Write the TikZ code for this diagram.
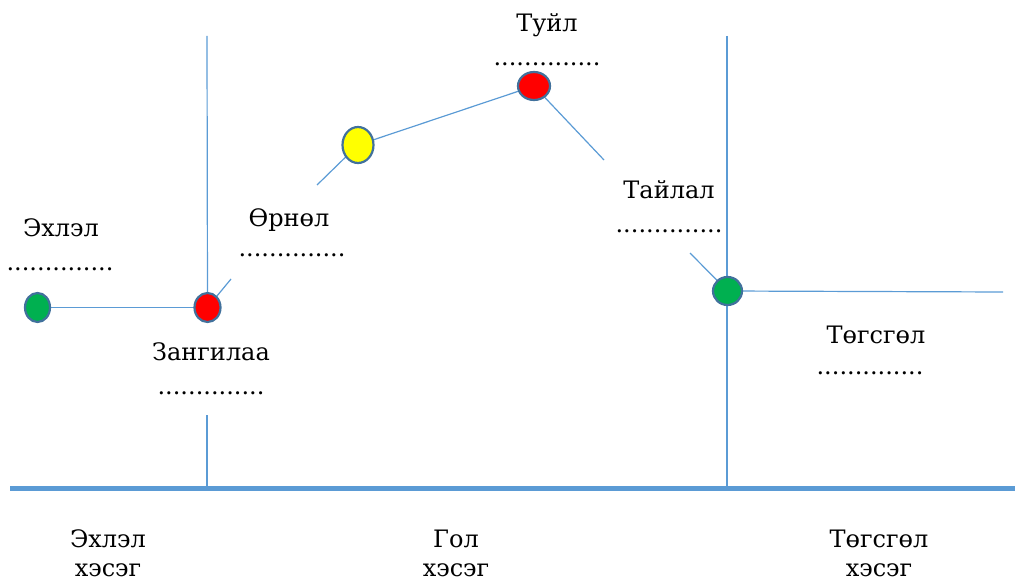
\documentclass[tikz,border=0pt]{standalone}
\usepackage{fontspec}
\newfontfamily\cyrserif{DejaVu Serif}
\usetikzlibrary{shapes.geometric}
\definecolor{lineblue}{HTML}{5B9BD5}
\definecolor{rimblue}{HTML}{41719C}
\definecolor{dotgreen}{HTML}{00B050}
\definecolor{dotred}{HTML}{FF0000}
\definecolor{dotyellow}{HTML}{FFFF00}
\begin{document}
\begin{tikzpicture}[x=1pt,y=-1pt,
  conn/.style={draw=lineblue,line width=1.2pt},
  bead/.style={ellipse,draw=rimblue,line width=2.2pt,inner sep=0pt},
  lbl/.style={anchor=base,inner sep=0pt,font=\cyrserif\fontsize{24}{28}\selectfont},
  dots/.style={anchor=base,inner sep=0pt,font=\cyrserif\fontsize{24}{28}\selectfont}]
\useasboundingbox (0,0) rectangle (1015,583);
% free ends
\coordinate (v1top) at (207,36);
\coordinate (v1low) at (207,415);
\coordinate (v1bot) at (207,487);
\coordinate (v2top) at (727,36);
\coordinate (v2bot) at (727,487);
\coordinate (zend) at (231,279);
\coordinate (ystart) at (317,185);
\coordinate (tend) at (604,160);
\coordinate (tstart) at (690,253);
\coordinate (rend) at (1003,292);
\coordinate (bl) at (10,488);
\coordinate (br) at (1015,488);
% bead positions
\coordinate (pg1) at (37.5,307.5);
\coordinate (pr1) at (207.5,307.5);
\coordinate (py1) at (358,145);
\coordinate (pr2) at (534,86);
\coordinate (pg2) at (727.5,291);
% connectors
\path[conn] (v1top) -- (pr1);
\path[conn] (v1low) -- (v1bot);
\path[conn] (v2top) -- (v2bot);
\path[conn] (pg1) -- (pr1);
\path[conn] (pr1) -- (zend);
\path[conn] (ystart) -- (py1);
\path[conn] (py1) -- (pr2);
\path[conn] (pr2) -- (tend);
\path[conn] (tstart) -- (pg2);
\path[conn] (pg2) -- (rend);
\draw[lineblue,line width=5pt] (bl) -- (br);
% beads
\node[bead,fill=dotgreen,minimum width=25pt,minimum height=29pt] (g1) at (pg1) {};
\node[bead,fill=dotred,minimum width=26pt,minimum height=29pt] (r1) at (pr1) {};
\node[bead,fill=dotyellow,minimum width=31pt,minimum height=36pt] (y1) at (py1) {};
\node[bead,fill=dotred,minimum width=32pt,minimum height=28pt] (r2) at (pr2) {};
\node[bead,fill=dotgreen,minimum width=29pt,minimum height=28pt] (g2) at (pg2) {};
% labels
\node[lbl] (t1) at (61,236) {Эхлэл};
\node[dots] (d1) at (60,270) {..............};
\node[lbl] (t2) at (211,360) {Зангилаа};
\node[dots] (d2) at (211,394) {..............};
\node[lbl] (t3) at (289,226) {Өрнөл};
\node[dots] (d3) at (292,256) {..............};
\node[lbl] (t4) at (547,32) {Туйл};
\node[dots] (d4) at (547,66) {..............};
\node[lbl] (t5) at (669,198) {Тайлал};
\node[dots] (d5) at (669,232) {..............};
\node[lbl] (t6) at (876,343) {Төгсгөл};
\node[dots] (d6) at (870,374) {..............};
\node[lbl] (b1) at (108,547) {Эхлэл};
\node[lbl] (b1b) at (108,576) {хэсэг};
\node[lbl] (b2) at (456,547) {Гол};
\node[lbl] (b2b) at (456,576) {хэсэг};
\node[lbl] (b3) at (879,547) {Төгсгөл};
\node[lbl] (b3b) at (879,576) {хэсэг};
\end{tikzpicture}
\end{document}
